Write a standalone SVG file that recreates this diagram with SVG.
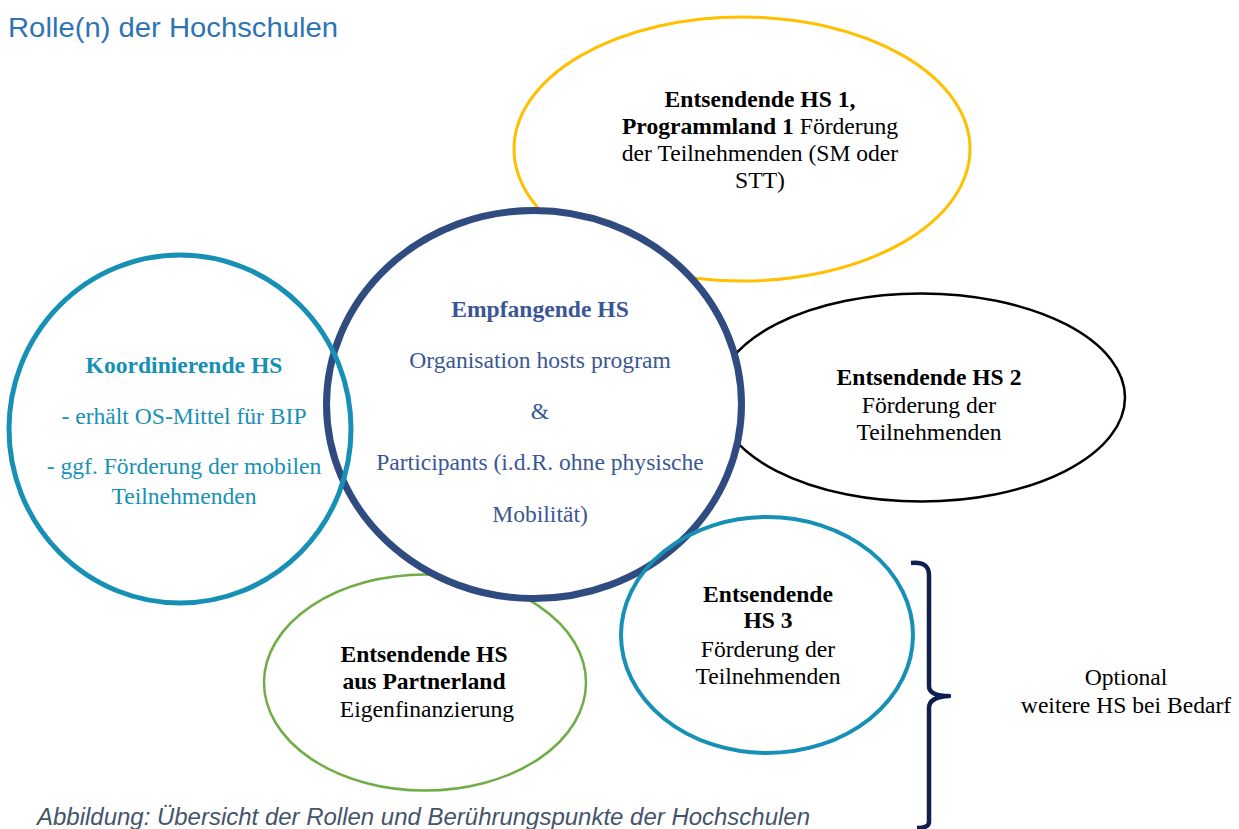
<svg xmlns="http://www.w3.org/2000/svg" width="1239" height="829" viewBox="0 0 1239 829">
<style>
.t{font-family:"Liberation Serif","Times New Roman",serif;font-size:23.6px;text-anchor:middle}
.b{font-weight:bold}
.k{fill:#000}
.teal{fill:#1790b6}
.blue{fill:#3a5795}
.ring{fill:none}
</style>
<rect width="1239" height="829" fill="#fff"/>
<text x="8" y="37" font-family="Liberation Sans, Arial, sans-serif" font-size="27.5" fill="#2e74b5" textLength="330" lengthAdjust="spacingAndGlyphs">Rolle(n) der Hochschulen</text>

<g id="node-hs1">
<ellipse cx="742" cy="149" rx="228" ry="132" fill="#fff" stroke="#ffc000" stroke-width="3"/>
<text class="t k"><tspan class="b" x="760" y="106.5">Entsendende HS 1,</tspan><tspan x="760" y="133.5"><tspan class="b">Programmland 1</tspan> Förderung</tspan><tspan x="760" y="161">der Teilnehmenden (SM oder</tspan><tspan x="760" y="188">STT)</tspan></text>
</g>

<g id="node-hs2">
<ellipse cx="921" cy="397.5" rx="204" ry="104" fill="#fff" stroke="#000" stroke-width="2.5"/>
<text class="t k"><tspan class="b" x="929" y="385">Entsendende HS 2</tspan><tspan x="929" y="412.5">Förderung der</tspan><tspan x="929" y="440">Teilnehmenden</tspan></text>
</g>

<g id="node-partner">
<ellipse cx="425" cy="682.5" rx="161" ry="108" fill="#fff" stroke="#70ad47" stroke-width="2.5"/>
<text class="t k"><tspan class="b" x="424" y="662">Entsendende HS</tspan><tspan class="b" x="424" y="689">aus Partnerland</tspan><tspan x="427" y="717">Eigenfinanzierung</tspan></text>
</g>

<g id="node-empfangend">
<ellipse cx="534" cy="404.5" rx="207.5" ry="194" fill="#fff" stroke="#2f4b80" stroke-width="7"/>
<text class="t blue"><tspan class="b" x="540" y="317">Empfangende HS</tspan><tspan x="540" y="368">Organisation hosts program</tspan><tspan x="540" y="419">&amp;</tspan><tspan x="540" y="470">Participants (i.d.R. ohne physische</tspan><tspan x="540" y="522">Mobilität)</tspan></text>
</g>

<g id="node-koordinierend">
<ellipse class="ring" cx="180" cy="429" rx="171" ry="174" stroke="#1790b6" stroke-width="5"/>
<text class="t teal"><tspan class="b" x="184" y="373">Koordinierende HS</tspan><tspan x="184" y="424">- erhält OS-Mittel für BIP</tspan><tspan x="184" y="474">- ggf. Förderung der mobilen</tspan><tspan x="184" y="504">Teilnehmenden</tspan></text>
</g>

<g id="node-hs3">
<ellipse class="ring" cx="767" cy="635" rx="146" ry="118" stroke="#1790b6" stroke-width="4"/>
<text class="t k"><tspan class="b" x="768" y="602">Entsendende</tspan><tspan class="b" x="768" y="628">HS 3</tspan><tspan x="768" y="657">Förderung der</tspan><tspan x="768" y="684">Teilnehmenden</tspan></text>
</g>

<g id="connectors">
<path d="M 911 563 Q 929 561 929 575 L 929 686 Q 929 696 949 696 Q 929 697 929 708 L 929 822 Q 929 828 917 828" fill="none" stroke="#0f1f4f" stroke-width="4.5" stroke-linejoin="round"/>
</g>

<g id="node-optional">
<text class="t k"><tspan x="1126" y="685">Optional</tspan><tspan x="1126" y="713">weitere HS bei Bedarf</tspan></text>
</g>

<text x="37" y="825" font-family="Liberation Sans, Arial, sans-serif" font-size="23.5" font-style="italic" fill="#44546a" textLength="773" lengthAdjust="spacingAndGlyphs">Abbildung: Übersicht der Rollen und Berührungspunkte der Hochschulen</text>
</svg>
